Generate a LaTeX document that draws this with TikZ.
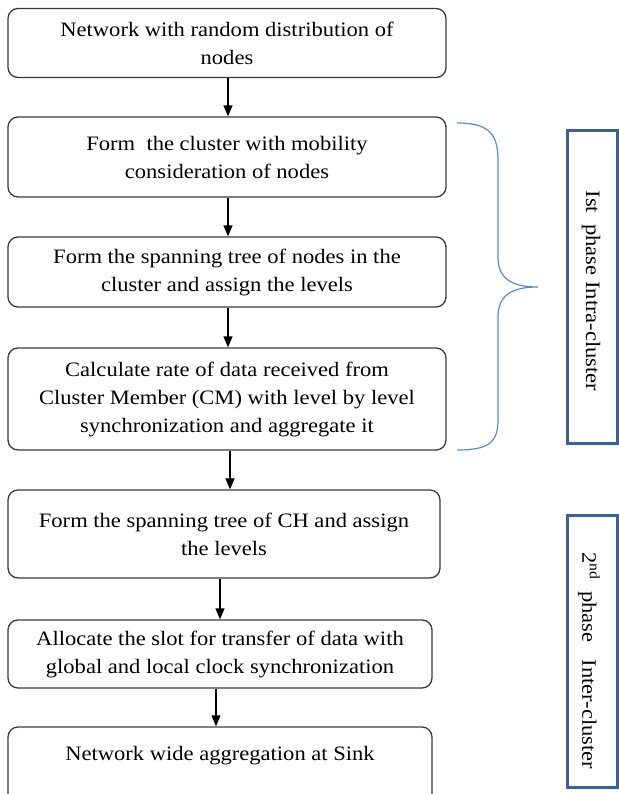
\documentclass[tikz,border=0pt]{standalone}
\usepackage{fontspec}
\setmainfont[FakeStretch=1.1]{Liberation Serif}
\usetikzlibrary{arrows.meta}
\definecolor{boxgray}{HTML}{3A3A3A}
\definecolor{bracecol}{HTML}{5B8CC8}
\definecolor{phasecol}{HTML}{3F6190}
\tikzset{
  stepbox/.style={draw=boxgray, line width=1.3pt, rounded corners=10pt,
    align=center, inner sep=0pt, font=\fontsize{20.5}{28}\selectfont},
  flow/.style={line width=1.3pt, -{Triangle[width=9pt,length=11pt]}},
  phasebox/.style={draw=phasecol, line width=3pt, inner sep=0pt},
  phasetext/.style={rotate=-90, font=\fontsize{20.5}{24}\selectfont}
}
\begin{document}
\begin{tikzpicture}[x=1pt,y=-1pt]
\useasboundingbox (0,0) rectangle (618,794);

% flow chart steps
\node[stepbox, minimum width=438, minimum height=69] (s1) at (227,43)
  {Network with random distribution of\\nodes};
\node[stepbox, minimum width=438, minimum height=80] (s2) at (227,157)
  {Form\ \ the cluster with mobility\\consideration of nodes};
\node[stepbox, minimum width=438, minimum height=70] (s3) at (227,272)
  {Form the spanning tree of nodes in the\\cluster and assign the levels};
\node[stepbox, minimum width=438, minimum height=102] (s4) at (227,399)
  {Calculate rate of data received from\\Cluster Member (CM) with level by level\\synchronization and aggregate it};
\node[stepbox, minimum width=432, minimum height=88] (s5) at (224,534)
  {Form the spanning tree of CH and assign\\the levels};
\node[stepbox, minimum width=424, minimum height=68] (s6) at (220,654)
  {Allocate the slot for transfer of data with\\global and local clock synchronization};
\node[stepbox, minimum width=424, minimum height=80] (s7) at (220,767)
  {Network wide aggregation at Sink\\\mbox{}};

% connectors
\coordinate (ax) at (228,0);
\draw[flow] (s1.south -| ax) -- (s2.north -| ax);
\draw[flow] (s2.south -| ax) -- (s3.north -| ax);
\draw[flow] (s3.south -| ax) -- (s4.north -| ax);
\coordinate (bx) at (230,0);
\draw[flow] (s4.south -| bx) -- (s5.north -| bx);
\coordinate (cx) at (220,0);
\draw[flow] (s5.south -| cx) -- (s6.north -| cx);
\coordinate (dx) at (216,0);
\draw[flow] (s6.south -| dx) -- (s7.north -| dx);

% brace grouping the first phase
\draw[bracecol, line width=1.2pt]
  (457,123) .. controls (488,123) and (498,133) .. (498,160)
  -- (498,257) .. controls (498,279) and (512,287) .. (538,287)
  .. controls (512,287) and (498,295) .. (498,317)
  -- (498,420) .. controls (498,443) and (488,450) .. (457,450);

% phase labels
\node[phasebox, minimum width=50, minimum height=312] (p1) at (592,287) {};
\node[phasetext] (t1) at (591,291) {Ist\ \ phase Intra-cluster};
\node[phasebox, minimum width=50, minimum height=272] (p2) at (592,651) {};
\node[phasetext] (t2) at (589,661) {2\textsuperscript{nd}\ \ phase\ \ \ Inter-cluster};
\end{tikzpicture}
\end{document}
